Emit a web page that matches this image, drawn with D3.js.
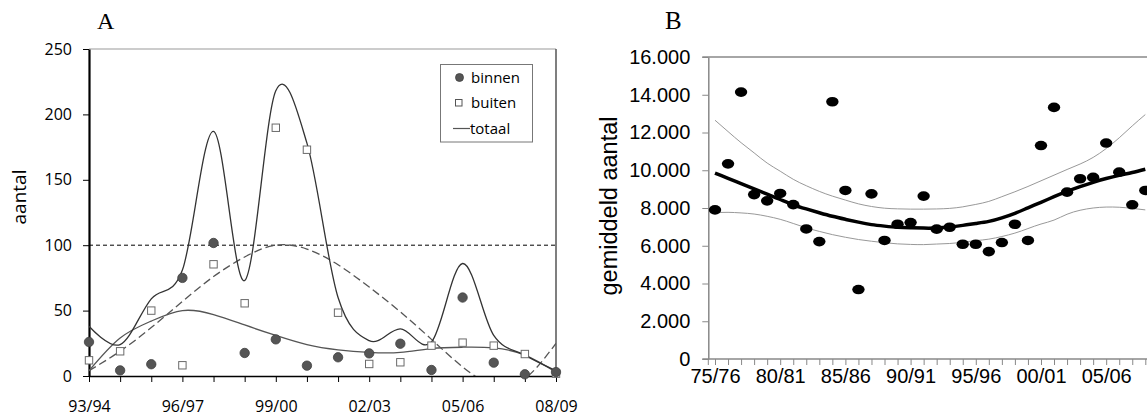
<!DOCTYPE html>
<html>
<head>
<meta charset="utf-8">
<script src="https://cdn.jsdelivr.net/npm/d3@7/dist/d3.min.js"></script>
<style>
  html, body { margin: 0; padding: 0; background: #fff; }
  svg { display: block; }
</style>
</head>
<body>
<svg id="chart" width="1147" height="419"></svg>
<script>
// ---------- Panel A data ----------
const catA = ["93/94","94/95","95/96","96/97","97/98","98/99","99/00","00/01","01/02","02/03","03/04","04/05","05/06","06/07","07/08","08/09"];
const tickLabelsA = ["93/94","96/97","99/00","02/03","05/06","08/09"];
const yTicksA = [0, 50, 100, 150, 200, 250];
const binnen = [26, 4.3, 9, 75, 101.7, 17.6, 28, 7.9, 14.3, 17.3, 24.7, 4.6, 60, 10.2, 1.3, 3];
const buiten = [12, 18.9, 50, 8.2, 85.4, 55.6, 189.8, 173, 48.4, 9.2, 10.5, 23.2, 25.5, 23.2, 16.8, 1.8];
const totaal = [38, 24, 59, 81, 187, 73, 218, 178, 60, 27, 36, 26, 86, 31, 16, 4];
const trendDashedA = [4, 19, 37, 57, 76, 91, 100, 97, 85, 68, 49, 28, 7, -7, -2, 25];
const trendSolidA = [4, 29, 42, 50, 47, 39, 31, 24, 20, 18, 18, 21, 22, 21.5, 16, 3];
const refLineA = 100;
const legendA = ["binnen", "buiten", "totaal"];

// ---------- Panel B data ----------
const catB = ["75/76","76/77","77/78","78/79","79/80","80/81","81/82","82/83","83/84","84/85","85/86","86/87","87/88","88/89","89/90","90/91","91/92","92/93","93/94","94/95","95/96","96/97","97/98","98/99","99/00","00/01","01/02","02/03","03/04","04/05","05/06","06/07","07/08","08/09"];
const tickLabelsB = ["75/76","80/81","85/86","90/91","95/96","00/01","05/06"];
const yTicksB = [0, 2000, 4000, 6000, 8000, 10000, 12000, 14000, 16000];
const gemiddeld = [7900, 10340, 14140, 8710, 8380, 8770, 8180, 6890, 6220, 13630, 8930, 3680, 8750, 6280, 7140, 7230, 8630, 6880, 6980, 6080, 6080, 5690, 6170, 7140, 6280, 11310, 13330, 8840, 9550, 9620, 11440, 9900, 8170, 8930];
const trendB = [9850, 9570, 9290, 9010, 8730, 8450, 8170, 7950, 7750, 7560, 7400, 7250, 7120, 7040, 6980, 6950, 6935, 6940, 6990, 7080, 7180, 7290, 7480, 7720, 8010, 8300, 8600, 8880, 9130, 9360, 9560, 9730, 9880, 10050];
const upperB = [12650, 12050, 11460, 10920, 10380, 9950, 9520, 9180, 8880, 8630, 8420, 8220, 8080, 7990, 7955, 7940, 7940, 7950, 7980, 8060, 8190, 8350, 8600, 8860, 9140, 9440, 9740, 10040, 10330, 10680, 11150, 11720, 12350, 12950];
const lowerB = [7760, 7770, 7740, 7680, 7560, 7400, 7180, 6950, 6760, 6590, 6450, 6330, 6240, 6160, 6100, 6070, 6060, 6090, 6120, 6190, 6270, 6350, 6490, 6670, 6910, 7150, 7360, 7670, 7880, 8000, 8050, 8040, 7980, 7900];

const svg = d3.select("#chart");
svg.append("rect").attr("width", 1147).attr("height", 419).attr("fill", "#fff");

// ================= Panel A =================
const fontA = "'Open Sans', 'Noto Sans', sans-serif";
const A = { left: 89, right: 556, top: 49, bottom: 376 };
const xA = d3.scaleLinear().domain([0, catA.length - 1]).range([A.left, A.right]);
const yA = d3.scaleLinear().domain([0, 250]).range([A.bottom, A.top]);

const gA = svg.append("g");
gA.append("clipPath").attr("id", "clipA")
  .append("rect").attr("x", A.left).attr("y", A.top).attr("width", A.right - A.left).attr("height", A.bottom - A.top);

// frame
gA.append("line").attr("x1", A.left).attr("x2", A.right).attr("y1", A.top).attr("y2", A.top)
  .attr("stroke", "#9a9a9a").attr("stroke-width", 1.2);
gA.append("line").attr("x1", A.right).attr("x2", A.right).attr("y1", A.top).attr("y2", A.bottom)
  .attr("stroke", "#555").attr("stroke-width", 1.5);

// y axis
const yAxA = gA.append("g").attr("transform", `translate(${A.left},0)`)
  .call(d3.axisLeft(yA).tickValues(yTicksA).tickSize(6).tickPadding(11).tickSizeOuter(0));
yAxA.select(".domain").attr("stroke", "#000").attr("stroke-width", 2.2);
yAxA.selectAll(".tick line").attr("stroke", "#000");
yAxA.selectAll("text").attr("font-family", fontA).attr("font-size", 16).attr("fill", "#000");

// x axis
const xAxA = gA.append("g").attr("transform", `translate(0,${A.bottom})`)
  .call(d3.axisBottom(xA).tickValues(d3.range(catA.length)).tickSize(6).tickPadding(19).tickSizeOuter(0)
    .tickFormat(i => tickLabelsA.includes(catA[i]) ? catA[i] : ""));
xAxA.select(".domain").attr("stroke", "#000").attr("stroke-width", 1.6);
xAxA.selectAll(".tick line").attr("stroke", "#000");
xAxA.selectAll("text").attr("font-family", fontA).attr("font-size", 16).attr("fill", "#000");

// y title
gA.append("text").attr("transform", "translate(26,197) rotate(-90)")
  .attr("text-anchor", "middle").attr("font-family", fontA).attr("font-size", 19).text("aantal");
// panel letter
gA.append("text").attr("x", 97).attr("y", 29).attr("font-family", "'Liberation Serif', serif")
  .attr("font-size", 24).text("A");

const plotA = gA.append("g").attr("clip-path", "url(#clipA)");
// reference line at 100
plotA.append("line").attr("x1", A.left).attr("x2", A.right).attr("y1", yA(refLineA)).attr("y2", yA(refLineA))
  .attr("stroke", "#000").attr("stroke-width", 1).attr("stroke-dasharray", "4,3");

const idx = d3.range(catA.length);
const lineNat = arr => d3.line().x(i => xA(i)).y(i => yA(arr[i])).curve(d3.curveNatural)(idx);
plotA.append("path").attr("d", lineNat(trendDashedA)).attr("fill", "none")
  .attr("stroke", "#555").attr("stroke-width", 1.3).attr("stroke-dasharray", "8,4");
plotA.append("path").attr("d", lineNat(trendSolidA)).attr("fill", "none")
  .attr("stroke", "#555").attr("stroke-width", 1.3);
plotA.append("path")
  .attr("d", d3.line().x(i => xA(i)).y(i => yA(totaal[i])).curve(d3.curveCatmullRom.alpha(0))(idx))
  .attr("fill", "none").attr("stroke", "#333").attr("stroke-width", 1.3);

// markers
gA.append("g").selectAll("rect").data(buiten).join("rect")
  .attr("x", (d, i) => xA(i) - 3.7).attr("y", d => yA(d) - 3.7).attr("width", 7.4).attr("height", 7.4)
  .attr("fill", "#fff").attr("stroke", "#6a6a6a").attr("stroke-width", 1);
gA.append("g").selectAll("circle").data(binnen).join("circle")
  .attr("cx", (d, i) => xA(i)).attr("cy", d => yA(d)).attr("r", 4.7)
  .attr("fill", "#555").attr("stroke", "#404040").attr("stroke-width", 0.8);

// legend
const lg = gA.append("g");
lg.append("rect").attr("x", 440.5).attr("y", 64.5).attr("width", 92).attr("height", 77.5)
  .attr("fill", "#fff").attr("stroke", "#777").attr("stroke-width", 1);
lg.append("circle").attr("cx", 459.5).attr("cy", 77.5).attr("r", 4).attr("fill", "#555").attr("stroke", "#404040").attr("stroke-width", 0.8);
lg.append("rect").attr("x", 455.5).attr("y", 99.5).attr("width", 6.5).attr("height", 6.5)
  .attr("fill", "#fff").attr("stroke", "#555").attr("stroke-width", 1);
lg.append("line").attr("x1", 453).attr("x2", 470).attr("y1", 128.5).attr("y2", 128.5).attr("stroke", "#555").attr("stroke-width", 1.2);
lg.selectAll("text").data(legendA).join("text")
  .attr("x", (d, i) => i === 2 ? 470 : 471).attr("y", (d, i) => [83, 108, 134][i])
  .attr("font-family", fontA).attr("font-size", 15).text(d => d);

// ================= Panel B =================
const fontB = "'Liberation Sans', Arial, sans-serif";
const B = { axisX: 708.3, right: 1147, top: 57, bottom: 359 };
const xB = d3.scaleLinear().domain([0, catB.length - 1]).range([715, 1145.3]);
const yB = d3.scaleLinear().domain([0, 16000]).range([B.bottom, B.top]);
const gB = svg.append("g");
const fmtB = d3.formatLocale({ decimal: ",", thousands: ".", grouping: [3], currency: ["", ""] }).format(",");

// top border
gB.append("line").attr("x1", B.axisX - 6).attr("x2", B.right).attr("y1", B.top).attr("y2", B.top)
  .attr("stroke", "#a6a6a6").attr("stroke-width", 1.8);

const yAxB = gB.append("g").attr("transform", `translate(${B.axisX},0)`)
  .call(d3.axisLeft(yB).tickValues(yTicksB).tickSize(6).tickPadding(12).tickSizeOuter(0).tickFormat(fmtB));
yAxB.select(".domain").attr("stroke", "#888").attr("stroke-width", 1.5);
yAxB.selectAll(".tick line").attr("stroke", "#888");
yAxB.selectAll("text").attr("font-family", fontB).attr("font-size", 20).attr("fill", "#000");

const xAxB = gB.append("g").attr("transform", `translate(0,${B.bottom})`)
  .call(d3.axisBottom(xB).tickValues(d3.range(catB.length)).tickSize(6).tickPadding(4).tickSizeOuter(0)
    .tickFormat(i => tickLabelsB.includes(catB[i]) ? catB[i] : ""));
xAxB.select(".domain").remove();
xAxB.selectAll(".tick line").attr("stroke", "#888");
xAxB.selectAll("text").attr("font-family", fontB).attr("font-size", 20).attr("fill", "#000");
gB.append("line").attr("x1", B.axisX - 6).attr("x2", B.right).attr("y1", B.bottom).attr("y2", B.bottom)
  .attr("stroke", "#888").attr("stroke-width", 1.5);
gB.append("line").attr("x1", B.axisX).attr("x2", B.axisX).attr("y1", B.bottom).attr("y2", B.bottom + 6)
  .attr("stroke", "#888").attr("stroke-width", 1);

gB.append("text").attr("transform", "translate(617,206) rotate(-90)")
  .attr("text-anchor", "middle").attr("font-family", fontB).attr("font-size", 23.5).text("gemiddeld aantal");
gB.append("text").attr("x", 665).attr("y", 29).attr("font-family", "'Liberation Serif', serif")
  .attr("font-size", 25).text("B");

const idxB = d3.range(catB.length);
const lineB = arr => d3.line().x(i => xB(i)).y(i => yB(arr[i])).curve(d3.curveNatural)(idxB);
gB.append("path").attr("d", lineB(upperB)).attr("fill", "none").attr("stroke", "#999").attr("stroke-width", 1);
gB.append("path").attr("d", lineB(lowerB)).attr("fill", "none").attr("stroke", "#999").attr("stroke-width", 1);
gB.append("path").attr("d", lineB(trendB)).attr("fill", "none").attr("stroke", "#000").attr("stroke-width", 3.5);

gB.append("g").selectAll("ellipse").data(gemiddeld).join("ellipse")
  .attr("cx", (d, i) => xB(i)).attr("cy", d => yB(d)).attr("rx", 6.2).attr("ry", 4.8).attr("fill", "#000");
</script>
</body>
</html>
